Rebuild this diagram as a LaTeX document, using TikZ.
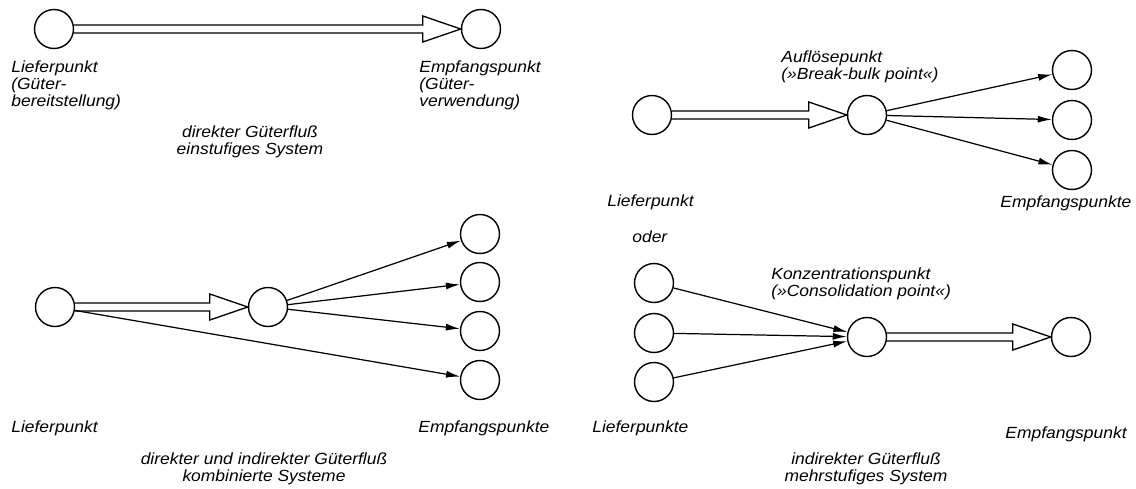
\documentclass[tikz,border=0pt]{standalone}
\usepackage{fontspec}
\newfontfamily\flowfont{Liberation Sans}[FakeStretch=1.08]
\usetikzlibrary{calc,arrows.meta}

% hohler Doppelpfeil (waagrecht) von Knoten #1 zu Knoten #2
\newcommand{\hollowflow}[2]{%
  \draw[flow] ($(#1.east)+(0,-4)$) -- ($(#2.west)+(-38,-4)$) -- ++(0,-9) -- (#2.west)
     -- ++(-38,13) -- ++(0,-9) -- ($(#1.east)+(0,4)$);}

\begin{document}
\begin{tikzpicture}[x=0.02cm,y=-0.02cm]
\tikzstyle{pkt}=[circle,draw,line width=0.8pt,minimum size=0.78cm,inner sep=0pt];
\tikzstyle{lbl}=[anchor=base west,align=left,inner sep=0pt,font=\flowfont\itshape\fontsize{9.2}{9.6}\selectfont];
\tikzstyle{capt}=[anchor=base,align=center,inner sep=0pt,font=\flowfont\itshape\fontsize{9.2}{9.6}\selectfont];
\tikzstyle{flow}=[line width=0.75pt,line join=miter];
\tikzstyle{ray}=[line width=0.7pt,-{Latex[length=8pt,width=4pt]}];

\useasboundingbox (0,0) rectangle (1136,488);

% einstufiges System
\begin{scope}
        \node[pkt] (lief) at (54,29) {};
        \node[pkt] (empf) at (481,29) {};
        \hollowflow{lief}{empf}

        % base = Grundlinie der letzten Zeile
        \node[lbl] (lieftxt) at (11,106) {Lieferpunkt\\(Güter-\\bereitstellung)};
        \node[lbl] (empftxt) at (419,106) {Empfangspunkt\\(Güter-\\verwendung)};
        \node[capt] (cap1) at (250,154) {direkter Güterfluß\\einstufiges System};
\end{scope}

% Aufloesepunkt
\begin{scope}
        \node[pkt] (bb1) at (652,115) {};
        \node[pkt] (bb2) at (867,115) {};
        \foreach \i/\y in {1/70,2/120,3/170}
          \node[pkt] (bbe\i) at (1072,\y) {};
        \hollowflow{bb1}{bb2}
        \foreach \i in {1,2,3}
          \draw[ray] (bb2) -- (bbe\i);

        \node[lbl] (auftxt) at (781,79) {Auflösepunkt\\(»Break-bulk point«)};
        \node[lbl] (bbltxt) at (607,206) {Lieferpunkt};
        \node[lbl] (odertxt) at (632,242) {oder};
        \node[lbl] (bbetxt) at (1000,207) {Empfangspunkte};
\end{scope}

% kombinierte Systeme
\begin{scope}
        \node[pkt] (kl) at (55,307) {};
        \node[pkt] (km) at (268,307) {};
        \foreach \i/\y in {1/234,2/282,3/331,4/380}
          \node[pkt] (ke\i) at (480,\y) {};
        \hollowflow{kl}{km}
        \foreach \i in {1,2,3}
          \draw[ray] (km) -- (ke\i);
        \draw[ray] (kl) -- (ke4);

        \node[lbl] (kltxt) at (11,432) {Lieferpunkt};
        \node[lbl] (ketxt) at (418,432) {Empfangspunkte};
        \node[capt] (cap2) at (264,481) {direkter und indirekter Güterfluß\\kombinierte Systeme};
\end{scope}

% Konzentrationspunkt
\begin{scope}
        \foreach \i/\y in {1/283,2/333,3/382}
          \node[pkt] (cs\i) at (654,\y) {};
        \node[pkt] (cm) at (867,337) {};
        \node[pkt] (ce) at (1071,337) {};
        \foreach \i in {1,2,3}
          \draw[ray] (cs\i) -- (cm);
        \hollowflow{cm}{ce}

        \node[lbl] (kontxt) at (771,296) {Konzentrationspunkt\\(»Consolidation point«)};
        \node[lbl] (cstxt) at (592,432) {Lieferpunkte};
        \node[lbl] (cetxt) at (1005,438) {Empfangspunkt};
        \node[capt] (cap3) at (866,481) {indirekter Güterfluß\\mehrstufiges System};
\end{scope}

\end{tikzpicture}
\end{document}
